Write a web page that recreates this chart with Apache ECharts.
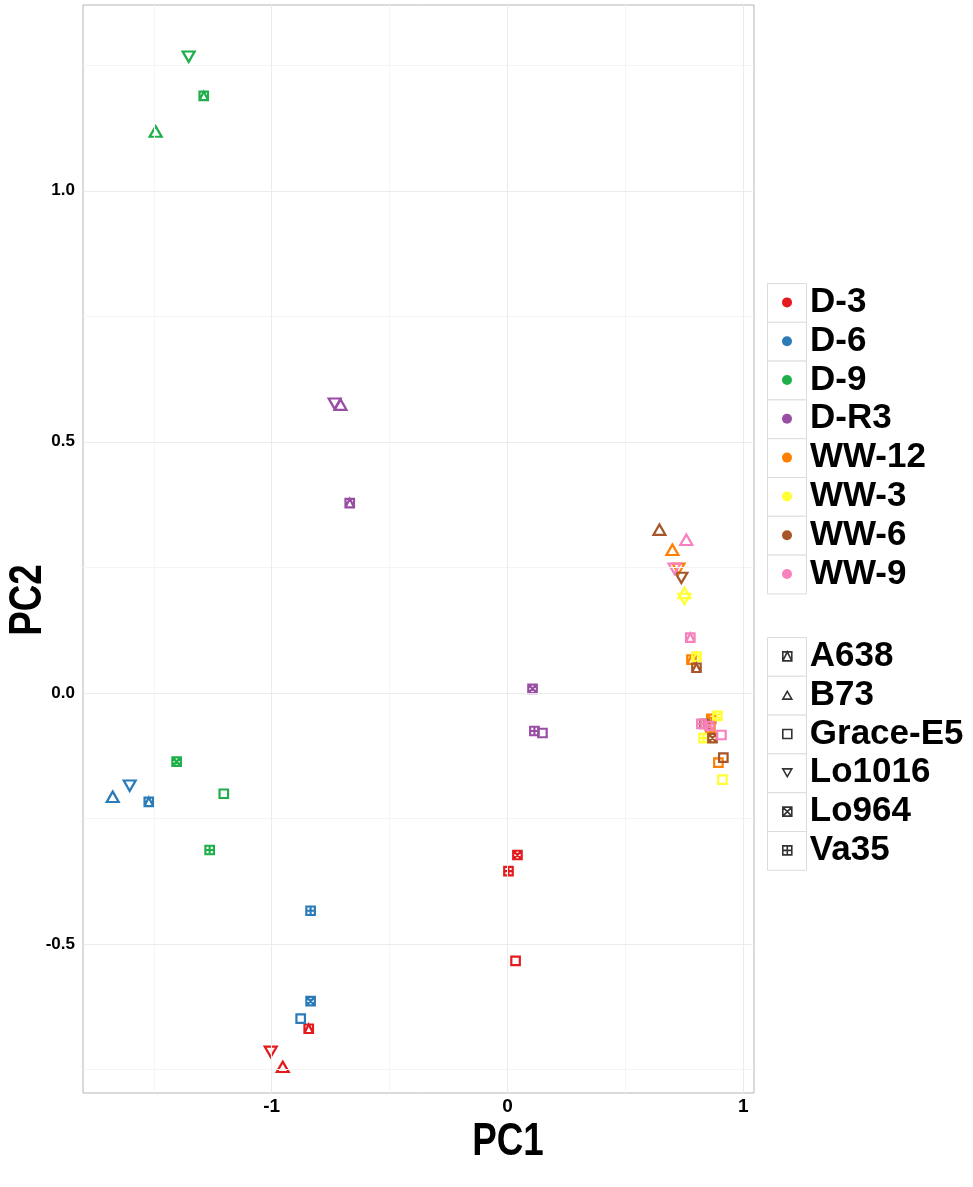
<!DOCTYPE html>
<html>
<head>
<meta charset="utf-8">
<script src="https://cdn.jsdelivr.net/npm/echarts@6/dist/echarts.min.js"></script>
<style>
  html, body { margin: 0; padding: 0; background: #ffffff; }
  #chart { width: 973px; height: 1187px; }
</style>
</head>
<body>
<div id="chart"></div>
<script>
// Treatments (colour) and genotypes (shape)
const treatments = ['D-3', 'D-6', 'D-9', 'D-R3', 'WW-12', 'WW-3', 'WW-6', 'WW-9'];
const treatmentColors = ['#E41A1C', '#2B7BB9', '#1FAF4A', '#984EA3', '#FF7F00', '#FFFF33', '#A65628', '#F781BF'];
const genotypes = ['A638', 'B73', 'Grace-E5', 'Lo1016', 'Lo964', 'Va35'];

// PC1 / PC2 scores, one row per treatment, columns follow the genotype order
const pc1 = {
  'D-3':   [-0.843, -0.953,  0.034, -1.004,  0.042,  0.004],
  'D-6':   [-1.521, -1.674, -0.877, -1.602, -0.835, -0.835],
  'D-9':   [-1.288, -1.492, -1.203, -1.352, -1.403, -1.263],
  'D-R3':  [-0.669, -0.708,  0.148, -0.733,  0.106,  0.114],
  'WW-12': [ 0.780,  0.699,  0.894,  0.725,  0.864,  0.860],
  'WW-3':  [ 0.801,  0.750,  0.911,  0.750,  0.890,  0.831],
  'WW-6':  [ 0.801,  0.644,  0.915,  0.737,  0.869,  0.835],
  'WW-9':  [ 0.775,  0.758,  0.907,  0.708,  0.856,  0.822]
};
const pc2 = {
  'D-3':   [-0.669, -0.745, -0.534, -0.715, -0.323, -0.355],
  'D-6':   [-0.217, -0.207, -0.649, -0.185, -0.614, -0.434],
  'D-9':   [ 1.189,  1.118, -0.201,  1.267, -0.137, -0.313],
  'D-R3':  [ 0.378,  0.574, -0.080,  0.576,  0.008, -0.076],
  'WW-12': [ 0.066,  0.285, -0.139,  0.247, -0.052, -0.070],
  'WW-3':  [ 0.072,  0.199, -0.173,  0.187, -0.046, -0.090],
  'WW-6':  [ 0.050,  0.325, -0.129,  0.229, -0.090, -0.062],
  'WW-9':  [ 0.110,  0.305, -0.084,  0.247, -0.066, -0.062]
};

// Axis ticks and grid lines
const xTicks = [-1, 0, 1];
const xMinor = [-1.5, -0.5, 0.5];
const yTicks = [-0.5, 0, 0.5, 1.0];
const yMinor = [-0.75, -0.25, 0.25, 0.75, 1.25];

// Marker shapes (outline paths, stroked in the treatment colour)
const shapePaths = {
  'A638':     'path://M0,0L10,0L10,10L0,10Z M0,10L5,0L10,10',
  'B73':      'path://M5,0L10,8.66L0,8.66Z',
  'Grace-E5': 'path://M0,0L10,0L10,10L0,10Z',
  'Lo1016':   'path://M0,0L10,0L5,8.66Z',
  'Lo964':    'path://M0,0L10,0L10,10L0,10Z M0,0L10,10 M10,0L0,10',
  'Va35':     'path://M0,0L10,0L10,10L0,10Z M5,0L5,10 M0,5L10,5'
};
const isTriangle = g => g === 'B73' || g === 'Lo1016';

const chart = echarts.init(document.getElementById('chart'), null, { renderer: 'canvas' });

const FONT = '"Liberation Sans", Arial, Helvetica, sans-serif';

// Plot panel
const G = { left: 83, right: 973 - 754, top: 5, bottom: 1187 - 1093 };

const gridLine = (axis, v, color) => ({ [axis]: v, lineStyle: { color: color, width: 1, type: 'solid' } });

const series = [];

// Grid lines, drawn through the axes' scales
series.push({
  type: 'scatter', name: '__grid', data: [], silent: true, z: 1,
  markLine: {
    silent: true, symbol: 'none', label: { show: false }, animation: false,
    data: [
      ...xMinor.map(v => gridLine('xAxis', v, '#f4f4f4')),
      ...yMinor.map(v => gridLine('yAxis', v, '#f4f4f4')),
      ...xTicks.map(v => gridLine('xAxis', v, '#ebebeb')),
      ...yTicks.map(v => gridLine('yAxis', v, '#ebebeb'))
    ]
  }
});

treatments.forEach((t, i) => {
  series.push({
    type: 'scatter',
    name: t,
    z: 3,
    data: genotypes.map((g, j) => ({
      value: [pc1[t][j], pc2[t][j]],
      symbol: shapePaths[g],
      symbolSize: isTriangle(g) ? [12, 10.4] : [8.5, 8.5]
    })),
    itemStyle: { color: 'rgba(0,0,0,0)', borderColor: treatmentColors[i], borderWidth: 2.2, opacity: 1 },
    emphasis: { disabled: true }
  });
});

// Empty series that give the genotype legend its entries
genotypes.forEach(g => {
  series.push({
    type: 'scatter', name: g, data: [],
    symbol: shapePaths[g],
    itemStyle: { color: 'rgba(0,0,0,0)', borderColor: '#000', borderWidth: 2 }
  });
});

const ROW = 38.8;
const KEY_X = 767, KEY_W = 39;
const LEG1_TOP = 283, LEG2_TOP = 637;

const graphics = [];

// Legend key boxes
treatments.forEach((t, i) => graphics.push({
  type: 'rect', silent: true, z: 0,
  shape: { x: KEY_X + 0.5, y: LEG1_TOP + i * ROW + 0.5, width: KEY_W, height: ROW },
  style: { fill: '#ffffff', stroke: '#dcdcdc', lineWidth: 1 }
}));
genotypes.forEach((g, i) => graphics.push({
  type: 'rect', silent: true, z: 0,
  shape: { x: KEY_X + 0.5, y: LEG2_TOP + i * ROW + 0.5, width: KEY_W, height: ROW },
  style: { fill: '#ffffff', stroke: '#dcdcdc', lineWidth: 1 }
}));

// Axis titles, set in a condensed bold face
graphics.push({
  type: 'text', silent: true, x: 508, y: 1142, scaleX: 0.8,
  style: { text: 'PC1', fill: '#000', fontFamily: FONT, fontWeight: 'bold', fontSize: 46, align: 'center', verticalAlign: 'middle' }
});
graphics.push({
  type: 'text', silent: true, x: 28, y: 600, rotation: Math.PI / 2, scaleX: 0.8,
  style: { text: 'PC2', fill: '#000', fontFamily: FONT, fontWeight: 'bold', fontSize: 46, align: 'center', verticalAlign: 'middle' }
});

const legendText = {
  color: '#000', fontFamily: FONT, fontWeight: 'bold', fontSize: 35,
  lineHeight: ROW, padding: [0, 0, 0, 13]
};

const option = {
  backgroundColor: '#ffffff',
  animation: false,
  textStyle: { fontFamily: FONT },
  grid: { ...G, show: true, borderColor: '#b5b5b5', borderWidth: 1, backgroundColor: '#ffffff', containLabel: false, outerBoundsMode: 'none' },
  xAxis: {
    type: 'value', min: -1.80, max: 1.045,
    axisLine: { show: false },
    axisTick: { show: true, customValues: xTicks, length: 4, lineStyle: { color: '#b5b5b5' } },
    axisLabel: { customValues: xTicks, color: '#000', fontFamily: FONT, fontWeight: 'bold', fontSize: 19, margin: 4, formatter: v => String(v) },
    splitLine: { show: false }
  },
  yAxis: {
    type: 'value', min: -0.797, max: 1.37,
    axisLine: { show: false },
    axisTick: { show: true, customValues: yTicks, length: 4, lineStyle: { color: '#b5b5b5' } },
    axisLabel: { customValues: yTicks, color: '#000', fontFamily: FONT, fontWeight: 'bold', fontSize: 17, margin: 8, formatter: v => v.toFixed(1) },
    splitLine: { show: false }
  },
  legend: [
    {
      orient: 'vertical', left: 782, top: LEG1_TOP, padding: 0, itemGap: 0,
      itemWidth: 10, itemHeight: 10, selectedMode: false,
      textStyle: legendText,
      data: treatments.map((t, i) => ({ name: t, icon: 'circle', itemStyle: { color: treatmentColors[i], borderWidth: 0 } }))
    },
    {
      orient: 'vertical', left: 782, top: LEG2_TOP, padding: 0, itemGap: 0,
      itemWidth: 9, itemHeight: 9, selectedMode: false,
      textStyle: legendText,
      data: genotypes.map(g => ({ name: g, icon: shapePaths[g], itemStyle: { color: 'rgba(0,0,0,0)', borderColor: '#000', borderWidth: 1.6 } }))
    }
  ],
  graphic: graphics,
  series: series
};

chart.setOption(option);
</script>
</body>
</html>
